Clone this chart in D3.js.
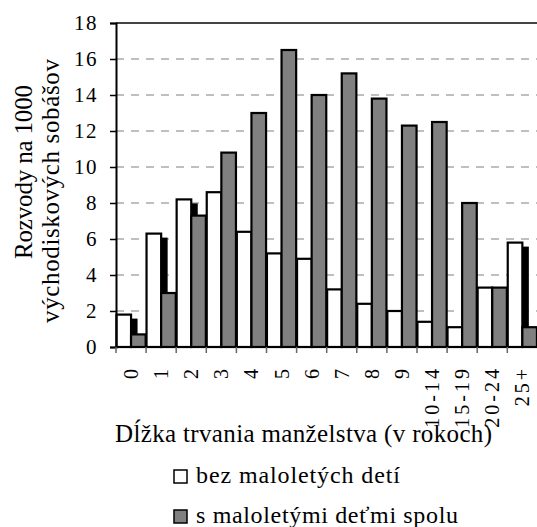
<!DOCTYPE html>
<html>
<head>
<meta charset="utf-8">
<script src="https://cdn.jsdelivr.net/npm/d3@7"></script>
<style>
  body { margin: 0; background: #fff; }
  svg text { font-family: "Liberation Serif", "Times New Roman", serif; fill: #000; }
</style>
</head>
<body>
<script>
var categories = ["0", "1", "2", "3", "4", "5", "6", "7", "8", "9", "10-14", "15-19", "20-24", "25+"];
var bezDeti = [1.8, 6.3, 8.2, 8.6, 6.4, 5.2, 4.9, 3.2, 2.4, 2.0, 1.4, 1.1, 3.3, 5.8];
var sDetmi = [0.7, 3.0, 7.3, 10.8, 13.0, 16.5, 14.0, 15.2, 13.8, 12.3, 12.5, 8.0, 3.3, 1.1];
var yTicks = [0, 2, 4, 6, 8, 10, 12, 14, 16, 18];
var seriesNames = ["bez maloletých detí", "s maloletými deťmi spolu"];

var width = 537,
    height = 527;

var plotLeft = 116, plotTop = 23, plotBottom = 347, plotRight = 116 + 14 * 30.1;

var svg = d3.select("body").append("svg")
    .attr("width", width)
    .attr("height", height);

var x = d3.scaleBand().domain(categories).range([plotLeft, plotRight]).padding(0);
var inner = d3.scaleBand().domain([0, 1]).range([0, x.bandwidth()]).paddingOuter(0.03).paddingInner(0);
var y = d3.scaleLinear().domain([0, 18]).range([plotBottom, plotTop]);

// gridlines
svg.append("g").selectAll("line")
    .data(yTicks.filter(function(d) { return d > 0 && d < 18; }))
  .enter().append("line")
    .attr("x1", plotLeft).attr("x2", width)
    .attr("y1", function(d) { return y(d); })
    .attr("y2", function(d) { return y(d); })
    .attr("stroke", "#aaa")
    .attr("stroke-width", 1.5)
    .attr("stroke-dasharray", "8,7");

svg.append("line")
    .attr("x1", plotLeft).attr("x2", width)
    .attr("y1", y(18)).attr("y2", y(18))
    .attr("stroke", "#444")
    .attr("stroke-width", 2);

// shadow behind white bars
svg.append("g").selectAll("rect")
    .data(bezDeti)
  .enter().append("rect")
    .attr("x", function(d, i) { return x(categories[i]) + inner(0) + 6.5; })
    .attr("y", function(d) { return y(d) + 4; })
    .attr("width", inner.bandwidth())
    .attr("height", function(d) { return Math.max(0, plotBottom - y(d) - 4); })
    .attr("fill", "#000");

svg.append("g").selectAll("rect")
    .data(bezDeti)
  .enter().append("rect")
    .attr("x", function(d, i) { return x(categories[i]) + inner(0); })
    .attr("y", function(d) { return y(d); })
    .attr("width", inner.bandwidth())
    .attr("height", function(d) { return plotBottom - y(d); })
    .attr("fill", "#fff")
    .attr("stroke", "#000")
    .attr("stroke-width", 2.2);

svg.append("g").selectAll("rect")
    .data(sDetmi)
  .enter().append("rect")
    .attr("x", function(d, i) { return x(categories[i]) + inner(1); })
    .attr("y", function(d) { return y(d); })
    .attr("width", inner.bandwidth())
    .attr("height", function(d) { return plotBottom - y(d); })
    .attr("fill", "#808080")
    .attr("stroke", "#000")
    .attr("stroke-width", 2.2);

// y axis
var yAxis = svg.append("g")
    .attr("transform", "translate(" + plotLeft + ",0)")
    .call(d3.axisLeft(y).tickValues(yTicks).tickSize(6).tickPadding(12).tickFormat(d3.format("d")));
yAxis.attr("font-family", null).attr("font-size", null);
yAxis.select(".domain").attr("stroke", "#000").attr("stroke-width", 2);
yAxis.selectAll(".tick line").attr("stroke", "#000").attr("stroke-width", 1.5);
yAxis.selectAll(".tick text")
    .style("font-size", "21px")
    .style("letter-spacing", "1.5px");

// x axis
svg.append("line")
    .attr("x1", plotLeft).attr("x2", width)
    .attr("y1", plotBottom).attr("y2", plotBottom)
    .attr("stroke", "#000").attr("stroke-width", 2);

svg.append("g").selectAll("line")
    .data(categories)
  .enter().append("line")
    .attr("x1", function(d) { return x(d); })
    .attr("x2", function(d) { return x(d); })
    .attr("y1", plotBottom).attr("y2", plotBottom + 6)
    .attr("stroke", "#666").attr("stroke-width", 1.5);

svg.append("g").selectAll("text")
    .data(categories)
  .enter().append("text")
    .attr("transform", function(d) { return "translate(" + (x(d) + x.bandwidth() / 2) + ",366) rotate(-90)"; })
    .attr("text-anchor", "end")
    .attr("dy", "0.35em")
    .style("font-size", "20px")
    .style("letter-spacing", "3px")
    .text(function(d) { return d; });

// titles
svg.append("text")
    .attr("x", 115).attr("y", 442)
    .attr("textLength", 377)
    .attr("lengthAdjust", "spacing")
    .style("font-size", "25px")
    .text("Dĺžka trvania manželstva (v rokoch)");

svg.append("text")
    .attr("transform", "translate(32,172) rotate(-90)")
    .attr("text-anchor", "middle")
    .attr("textLength", 174)
    .attr("lengthAdjust", "spacing")
    .style("font-size", "25px")
    .text("Rozvody na 1000");

svg.append("text")
    .attr("transform", "translate(59,191) rotate(-90)")
    .attr("text-anchor", "middle")
    .attr("textLength", 264)
    .attr("lengthAdjust", "spacing")
    .style("font-size", "25px")
    .text("východiskových sobášov");

// legend
var legend = svg.append("g").selectAll("g")
    .data(seriesNames)
  .enter().append("g")
    .attr("transform", function(d, i) { return "translate(174," + (470 + i * 40) + ")"; });

legend.append("rect")
    .attr("width", 13).attr("height", 13)
    .attr("fill", function(d, i) { return i === 0 ? "#fff" : "#808080"; })
    .attr("stroke", "#000").attr("stroke-width", 1.5);

legend.append("text")
    .attr("x", 22).attr("y", 13)
    .attr("textLength", function(d, i) { return i === 0 ? 204 : 262; })
    .attr("lengthAdjust", "spacing")
    .style("font-size", "24px")
    .text(function(d) { return d; });
</script>
</body>
</html>
